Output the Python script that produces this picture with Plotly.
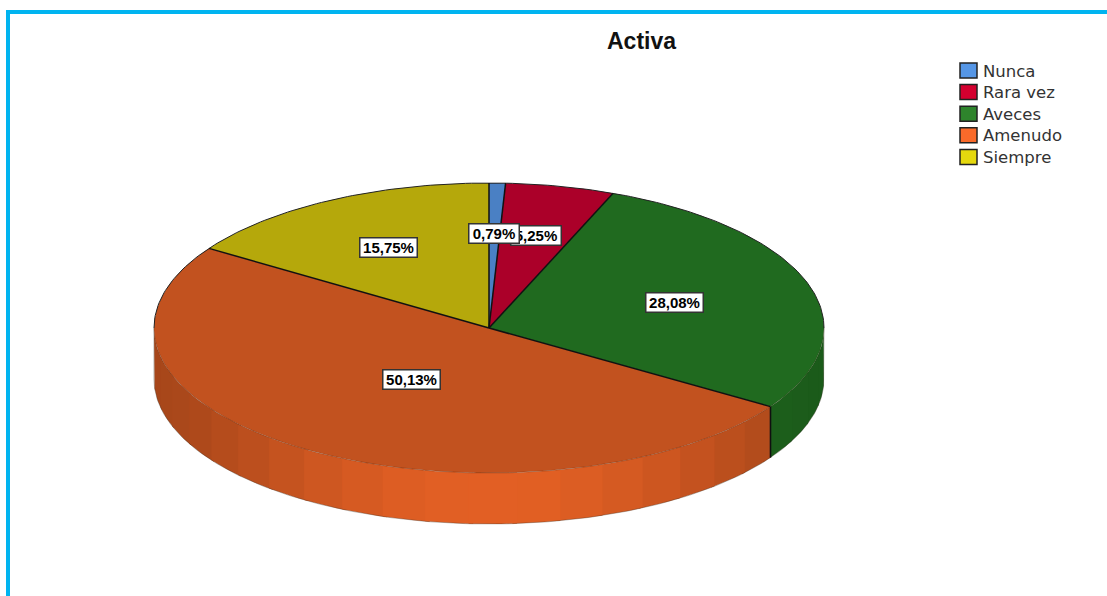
import numpy as np
import plotly.graph_objects as go

# ---- data ----
categories = ["Nunca", "Rara vez", "Aveces", "Amenudo", "Siempre"]
values = [0.79, 5.25, 28.08, 50.13, 15.75]
value_labels = ["0,79%", "5,25%", "28,08%", "50,13%", "15,75%"]
top_colors = ["#4A80C4", "#AB0029", "#206A1F", "#C2521F", "#B5A80B"]
legend_colors = ["#5596E6", "#D4002F", "#2E842C", "#F96A2A", "#E5D80E"]
title_text = "Activa"

# ---- layout constants (pixel-like paper space) ----
W, H = 1107, 596
CX, CY, RX, RY, DEPTH = 489.0, 328.0, 335.0, 145.0, 51.0
LABEL_R = [0.655, 0.655, 0.582, 0.426, 0.63]
STEP, STEP0 = 7.5, 3.1  # wall facets in degrees
LEG_X0, LEG_X1, LEG_TXT, LEG_Y, LEG_DY = 960, 977, 981, 70.5, 21.6


def pt(theta_deg, r=1.0):
    t = np.radians(theta_deg)
    return CX + RX * r * np.sin(t), CY - RY * r * np.cos(t)


def shade(hex_color, f):
    h = hex_color.lstrip("#")
    rgb = [int(h[i:i + 2], 16) for i in (0, 2, 4)]
    return "rgb(" + ",".join(str(int(min(255, c * f))) for c in rgb) + ")"


cum = np.concatenate([[0], np.cumsum(values)])
total = cum[-1]
angles = cum / total * 360.0

fig = go.Figure()

# side walls, facet by facet (visible lower half only)
for i in range(len(values)):
    a0, a1 = max(angles[i], 90.0), min(angles[i + 1], 270.0)
    if a1 <= a0:
        continue
    edges = [a0]
    k = np.ceil((a0 - STEP0) / STEP)
    while STEP0 + k * STEP < a1:
        e = STEP0 + k * STEP
        if e > a0:
            edges.append(e)
        k += 1
    edges.append(a1)
    segs = list(zip(edges[:-1], edges[1:]))
    # paint from the outer ends toward the front so each facet overlaps its neighbour
    for s, e in sorted(segs, key=lambda p: abs((p[0] + p[1]) / 2 - 180), reverse=True):
        mid = (s + e) / 2
        f = 0.86 + 0.31 * max(np.cos(np.radians(mid - 180)), 0) ** 3
        s2, e2 = max(a0, s - 0.4), min(a1, e + 0.4)
        th = np.linspace(s2, e2, 10)
        xt, yt = pt(th)
        xs = np.concatenate([xt, xt[::-1]])
        ys = np.concatenate([yt, yt[::-1] + DEPTH])
        fig.add_trace(go.Scatter(
            x=np.append(xs, xs[0]), y=np.append(ys, ys[0]), mode="lines", fill="toself",
            fillcolor=shade(top_colors[i], f), line=dict(width=0),
            showlegend=False, hoverinfo="skip"))

# wall outer outline
th = np.linspace(90, 270, 181)
xo, yo = pt(th)
fig.add_trace(go.Scatter(
    x=np.concatenate([[xo[0]], xo, [xo[-1]]]),
    y=np.concatenate([[yo[0]], yo + DEPTH, [yo[-1]]]),
    mode="lines", line=dict(color="rgba(60,50,40,0.45)", width=0.8), showlegend=False, hoverinfo="skip"))

# edge between walls
for i in range(len(values)):
    a = angles[i + 1]
    if 90 < a < 270:
        xe, ye = pt(a)
        fig.add_trace(go.Scatter(x=[xe, xe], y=[ye, ye + DEPTH], mode="lines",
                                 line=dict(color="#101010", width=1.6), showlegend=False, hoverinfo="skip"))

# top wedges (fill only)
for i in range(len(values)):
    th = np.linspace(angles[i], angles[i + 1], max(3, int(angles[i + 1] - angles[i]) * 2))
    xt, yt = pt(th)
    fig.add_trace(go.Scatter(
        x=np.concatenate([[CX], xt, [CX]]), y=np.concatenate([[CY], yt, [CY]]),
        mode="lines", fill="toself", fillcolor=top_colors[i],
        line=dict(width=0), name=categories[i],
        showlegend=False, hovertemplate=categories[i] + ": " + value_labels[i] + "<extra></extra>"))

# rim of the top face: dark at the back, faint at the front
th = np.linspace(90, 270, 181)
xf, yf = pt(th)
fig.add_trace(go.Scatter(x=xf, y=yf, mode="lines", line=dict(color="rgba(50,30,15,0.35)", width=0.8),
                         showlegend=False, hoverinfo="skip"))
th = np.linspace(270, 450, 181)
xb, yb = pt(th)
fig.add_trace(go.Scatter(x=xb, y=yb, mode="lines", line=dict(color="#222222", width=1),
                         showlegend=False, hoverinfo="skip"))

# radial separators
for a in angles[:-1]:
    xe, ye = pt(a)
    fig.add_trace(go.Scatter(x=[CX, xe], y=[CY, ye], mode="lines", line=dict(color="#111111", width=1.5),
                             showlegend=False, hoverinfo="skip"))

# value labels (first slice last so that it sits on top, as in the source)
annotations = []
for i in [1, 2, 3, 4, 0]:
    mid = (angles[i] + angles[i + 1]) / 2
    ax, ay = pt(mid, LABEL_R[i])
    annotations.append(dict(
        x=ax, y=ay, xref="x", yref="y", text=value_labels[i], showarrow=False,
        width=7 * len(value_labels[i]) + 14, height=18, align="center", valign="middle",
        font=dict(family="Liberation Sans", size=15, color="#000000", weight="bold"),
        bgcolor="#FFFFFF", bordercolor="#333333", borderwidth=1.5, borderpad=0))
annotations.append(dict(
    x=641.5, y=41, xref="x", yref="y", text=title_text, showarrow=False,
    font=dict(family="Liberation Sans", size=23, color="#111111", weight="bold")))

frame = dict(type="rect", xref="x", yref="y", x0=8, y0=12, x1=W + 20, y1=H + 20,
             line=dict(color="#00B4F0", width=4), layer="below")
shapes = [frame]

# legend
for i, (c, col) in enumerate(zip(categories, legend_colors)):
    yc = LEG_Y + i * LEG_DY
    shapes.append(dict(type="rect", xref="x", yref="y", x0=LEG_X0, x1=LEG_X1, y0=yc - 7.5, y1=yc + 7.5,
                       fillcolor=col, line=dict(color="#222222", width=1.5)))
    annotations.append(dict(x=LEG_TXT, y=yc + 0.5, xref="x", yref="y", xanchor="left", text=c, showarrow=False,
                            font=dict(family="DejaVu Sans", size=16.5, color="#333333")))

fig.update_layout(
    width=W, height=H, margin=dict(l=0, r=0, t=0, b=0), showlegend=False,
    paper_bgcolor="#FFFFFF", plot_bgcolor="#FFFFFF",
    xaxis=dict(range=[0, W], visible=False, fixedrange=True),
    yaxis=dict(range=[H, 0], visible=False, fixedrange=True),
    shapes=shapes, annotations=annotations,
)

fig.write_html("out.html", config={"displayModeBar": False},
               post_script="document.body.style.margin='0';")
